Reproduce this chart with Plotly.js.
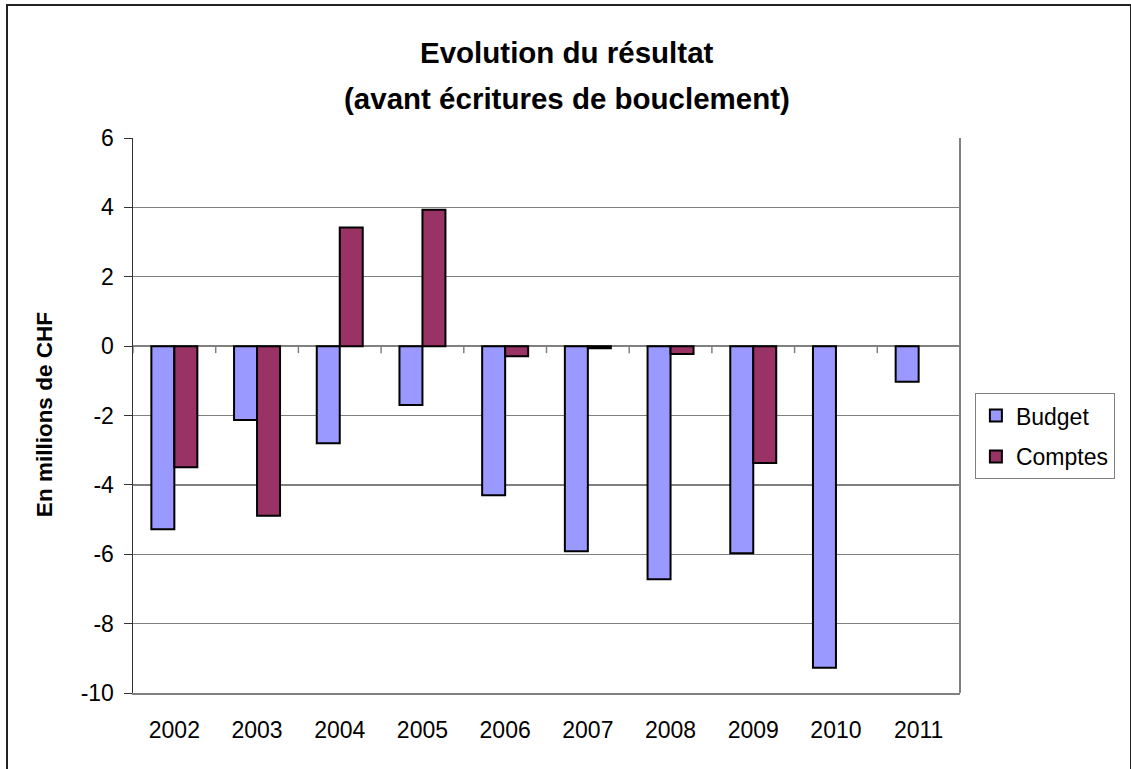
<!DOCTYPE html>
<html>
<head>
<meta charset="utf-8">
<script src="https://cdn.plot.ly/plotly-3.0.1.min.js"></script>
<style>
  html, body { margin: 0; padding: 0; background: #fff; overflow: hidden; }
  #chart { width: 1131px; height: 769px; position: absolute; left: 0; top: 0; }
  #frame { position: absolute; left: 6px; top: 4px; width: 1122px; height: 800px;
           border: 2px solid #222; pointer-events: none; }
</style>
</head>
<body>
<div id="chart"></div>
<div id="frame"></div>
<script>
const years = ['2002','2003','2004','2005','2006','2007','2008','2009','2010','2011'];
const budget = [-5.28, -2.13, -2.8, -1.7, -4.3, -5.91, -6.72, -5.97, -9.27, -1.03];
const comptes = [-3.49, -4.89, 3.42, 3.93, -0.29, -0.06, -0.23, -3.37, null, null];
const yTicks = [-10, -8, -6, -4, -2, 0, 2, 4, 6];
const titleLines = ['Evolution du résultat', '(avant écritures de bouclement)'];
const yTitle = 'En millions de CHF';
const seriesNames = ['Budget', 'Comptes'];

const FONT = 'Arial, "Liberation Sans", sans-serif';

const boundaries = [];
for (let i = 0; i <= years.length; i++) boundaries.push(i - 0.5);

const traces = [
  { type: 'bar', name: seriesNames[0], x: years.map((_, i) => i), y: budget,
    legendgroup: 'a',
    marker: { color: '#9999FF', line: { color: '#000', width: 2 } } },
  { type: 'bar', name: seriesNames[1], x: years.map((_, i) => i), y: comptes,
    legendgroup: 'b',
    marker: { color: '#993366', line: { color: '#000', width: 2 } } }
];

const tickShapes = boundaries.map(b => ({
  type: 'line', xref: 'x', yref: 'y', ysizemode: 'pixel', yanchor: 0,
  x0: b, x1: b, y0: 0, y1: -7, layer: 'above',
  line: { color: '#808080', width: 1.5 }
}));

const layout = {
  width: 1131, height: 769,
  margin: { l: 133, r: 171, t: 137.5, b: 75.7 },
  paper_bgcolor: '#fff', plot_bgcolor: '#fff',
  font: { family: FONT, color: '#000' },
  barmode: 'group', bargap: 0.444, bargroupgap: 0,
  showlegend: true,
  legend: {
    x: 1.018, y: 0.5403, xanchor: 'left', yanchor: 'top',
    bordercolor: '#808080', borderwidth: 1,
    font: { size: 23, family: FONT },
    traceorder: 'grouped', tracegroupgap: 8,
    itemwidth: 30
  },
  xaxis: {
    type: 'linear', range: [-0.5, 9.5],
    tickvals: years.map((_, i) => i), ticktext: years,
    tickfont: { size: 23 }, ticks: '',
    ticklabelstandoff: 15,
    showgrid: false, zeroline: false,
    showline: true, linecolor: '#808080', linewidth: 2
  },
  yaxis: {
    range: [-10, 6], tickvals: yTicks, ticktext: yTicks.map(String),
    tickfont: { size: 23 }, ticks: 'outside', ticklen: 8, tickcolor: '#333',
    ticklabelstandoff: 5,
    showgrid: true, gridcolor: '#808080', gridwidth: 1.3,
    zeroline: true, zerolinecolor: '#808080', zerolinewidth: 1.5,
    showline: true, linecolor: '#333', linewidth: 1.5
  },
  shapes: [
    { type: 'line', xref: 'paper', yref: 'paper', x0: 1, x1: 1, y0: 0, y1: 1,
      line: { color: '#808080', width: 2 } }
  ].concat(tickShapes),
  annotations: [
    { text: '<b>' + titleLines[0] + '</b>', xref: 'paper', yref: 'paper',
      x: 0.5248, y: 1.1538, xanchor: 'center', yanchor: 'middle', showarrow: false,
      font: { size: 29.5, family: FONT } },
    { text: '<b>' + titleLines[1] + '</b>', xref: 'paper', yref: 'paper',
      x: 0.5248, y: 1.0711, xanchor: 'center', yanchor: 'middle', showarrow: false,
      font: { size: 29.5, family: FONT } },
    { text: '<b>' + yTitle + '</b>', xref: 'paper', yref: 'paper',
      x: -0.1076, y: 0.5007, xanchor: 'center', yanchor: 'middle', textangle: -90,
      showarrow: false, font: { size: 22.5, family: FONT } }
  ]
};

Plotly.newPlot('chart', traces, layout, { staticPlot: true, displayModeBar: false });
</script>
</body>
</html>
